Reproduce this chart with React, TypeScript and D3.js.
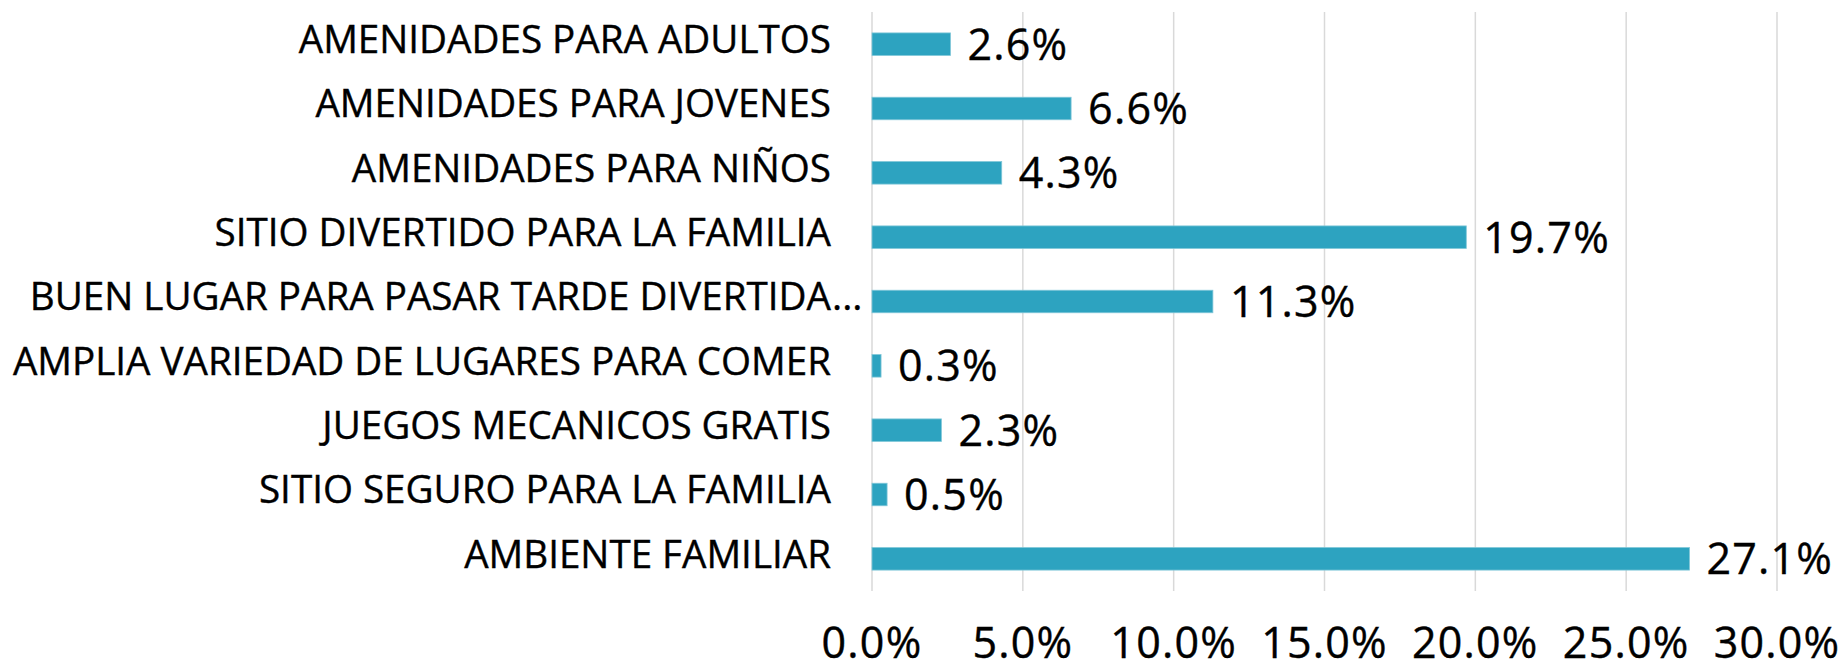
import React, { useRef, useEffect } from 'react';
import * as d3 from 'd3';

const categories: string[] = [
    'AMENIDADES PARA ADULTOS',
    'AMENIDADES PARA JOVENES',
    'AMENIDADES PARA NIÑOS',
    'SITIO DIVERTIDO PARA LA FAMILIA',
    'BUEN LUGAR PARA PASAR TARDE DIVERTIDA...',
    'AMPLIA VARIEDAD DE LUGARES PARA COMER',
    'JUEGOS MECANICOS GRATIS',
    'SITIO SEGURO PARA LA FAMILIA',
    'AMBIENTE FAMILIAR',
];
const values: number[] = [0.026, 0.066, 0.043, 0.197, 0.113, 0.003, 0.023, 0.005, 0.271];
const xTicks: number[] = [0, 0.05, 0.1, 0.15, 0.2, 0.25, 0.3];

export default function App() {
    const svgRef = useRef<SVGSVGElement | null>(null);

    const width = 1845;
    const height = 671;
    const margin = { top: 12, right: 68, bottom: 80, left: 872 };
    const font = '"Open Sans", "Noto Sans", sans-serif';

    useEffect(() => {
        const svg = d3.select(svgRef.current);
        svg.selectAll('*').remove(); // Clear previous content

        const x = d3.scaleLinear().domain([0, 0.3]).range([margin.left, width - margin.right]);
        const y = d3
            .scaleBand<string>()
            .domain(categories)
            .range([margin.top, height - margin.bottom])
            .paddingInner(0.65)
            .paddingOuter(0.325);

        const fmt = d3.format('.1%');

        // vertical gridlines
        svg.append('g')
            .selectAll('line')
            .data(xTicks)
            .enter()
            .append('line')
            .attr('x1', d => x(d))
            .attr('x2', d => x(d))
            .attr('y1', margin.top)
            .attr('y2', height - margin.bottom)
            .attr('stroke', '#d9d9d9')
            .attr('stroke-width', 1.5);

        // bars
        svg.append('g')
            .selectAll('rect')
            .data(values)
            .enter()
            .append('rect')
            .attr('x', x(0))
            .attr('y', (_, i) => y(categories[i])!)
            .attr('width', d => x(d) - x(0))
            .attr('height', y.bandwidth())
            .attr('fill', '#2da3c0')
            .attr('stroke', '#7fc6d8')
            .attr('stroke-width', 0.8);

        // value labels
        svg.append('g')
            .selectAll('text')
            .data(values)
            .enter()
            .append('text')
            .attr('x', d => x(d) + 17)
            .attr('y', (_, i) => y(categories[i])! + y.bandwidth() / 2)
            .attr('dy', '0.36em')
            .attr('font-family', font)
            .attr('font-size', 43)
            .attr('letter-spacing', 1.2)
            .attr('fill', '#000')
            .attr('stroke', '#000')
            .attr('stroke-width', 0.4)
            .text(d => fmt(d));

        // category labels (truncated ones keep their dots past the anchor, like Excel)
        const labelX = x(0) - 41;
        const cat = svg.append('g');
        categories.forEach(c => {
            const cy = y(c)! + y.bandwidth() / 2 - 5;
            const cut = c.endsWith('...');
            cat.append('text')
                .attr('x', labelX)
                .attr('y', cy)
                .attr('dy', '0.36em')
                .attr('text-anchor', 'end')
                .attr('font-family', font)
                .attr('font-size', 38.6)
                .attr('fill', '#000')
                .attr('stroke', '#000')
                .attr('stroke-width', 0.4)
                .text(cut ? c.slice(0, -3) : c);
            if (cut) {
                cat.append('text')
                    .attr('x', labelX + 1)
                    .attr('y', cy)
                    .attr('dy', '0.36em')
                    .attr('font-family', font)
                    .attr('font-size', 38.6)
                    .attr('fill', '#000')
                    .attr('stroke', '#000')
                    .attr('stroke-width', 0.4)
                    .text('...');
            }
        });

        // x axis tick labels
        svg.append('g')
            .selectAll('text')
            .data(xTicks)
            .enter()
            .append('text')
            .attr('x', d => x(d))
            .attr('y', 658)
            .attr('text-anchor', 'middle')
            .attr('font-family', font)
            .attr('font-size', 43)
            .attr('letter-spacing', 1.2)
            .attr('fill', '#000')
            .attr('stroke', '#000')
            .attr('stroke-width', 0.4)
            .text(d => fmt(d));
    }, []);

    return (
        <svg
            ref={svgRef}
            width={width}
            height={height}
            style={{ position: 'absolute', left: 0, top: 0, background: '#fff' }}
        ></svg>
    );
}
